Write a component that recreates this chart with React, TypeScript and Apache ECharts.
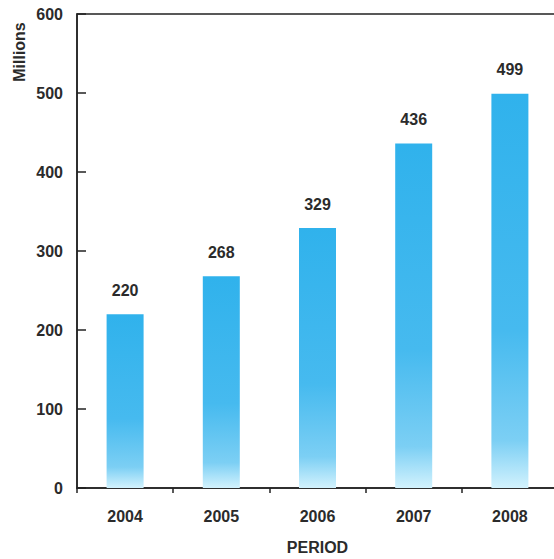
import React, { useEffect, useRef } from "react";
import * as echarts from "echarts";

const categories = ["2004", "2005", "2006", "2007", "2008"];
const values = [220, 268, 329, 436, 499];
const yTicks = { min: 0, max: 600, interval: 100 };
const yAxisTitle = "Millions";
const xAxisTitle = "PERIOD";

const FONT = "'Liberation Sans', Arial, sans-serif";
const TEXT = "#2b2b2b";

export default function App() {
  const ref = useRef<HTMLDivElement>(null);
  useEffect(() => {
    if (!ref.current) return;
    const chart = echarts.init(ref.current, null, { renderer: "svg" });
    chart.setOption({
      animation: false,
      backgroundColor: "#ffffff",
      textStyle: { fontFamily: FONT },
      grid: {
        left: 77,
        top: 14,
        width: 481,
        height: 474,
        containLabel: false,
        outerBoundsMode: "none",
        show: true,
        borderColor: "#222",
        borderWidth: 1.5,
        backgroundColor: "transparent",
      },
      graphic: [
        {
          type: "text",
          x: 19,
          y: 52,
          rotation: Math.PI / 2,
          style: {
            text: yAxisTitle,
            align: "center",
            verticalAlign: "middle",
            fontFamily: FONT,
            fontWeight: "bold",
            fontSize: 16,
            fill: TEXT,
          },
        },
      ],
      xAxis: {
        type: "category",
        data: categories,
        boundaryGap: true,
        name: xAxisTitle,
        nameLocation: "middle",
        nameGap: 51,
        nameTextStyle: { fontFamily: FONT, fontWeight: "bold", fontSize: 16, color: TEXT },
        axisLine: { lineStyle: { color: "#222", width: 1.5 } },
        axisTick: { show: true, inside: false, length: 5, lineStyle: { color: "#222", width: 1.5 } },
        axisLabel: { fontFamily: FONT, fontWeight: "bold", fontSize: 16, color: TEXT, margin: 20 },
        splitLine: { show: false },
      },
      yAxis: {
        type: "value",
        min: yTicks.min,
        max: yTicks.max,
        interval: yTicks.interval,
        axisLine: { show: true, lineStyle: { color: "#222", width: 1.5 } },
        axisTick: { show: true, inside: true, length: 9, lineStyle: { color: "#222", width: 1.5 } },
        axisLabel: { fontFamily: FONT, fontWeight: "bold", fontSize: 16, color: TEXT, margin: 14 },
        splitLine: { show: false },
      },
      series: [
        {
          type: "bar",
          data: values,
          barWidth: 37,
          itemStyle: {
            color: new echarts.graphic.LinearGradient(0, 0, 0, 1, [
              { offset: 0, color: "#30b2ec" },
              { offset: 0.6, color: "#46baef" },
              { offset: 0.88, color: "#7ccff4" },
              { offset: 1, color: "#d2f2fd" },
            ]),
          },
          label: {
            show: true,
            position: "top",
            distance: 16,
            fontFamily: FONT,
            fontWeight: "bold",
            fontSize: 16,
            color: TEXT,
          },
        },
      ],
    });
    return () => chart.dispose();
  }, []);
  return (
    <div
      style={{
        position: "fixed",
        left: 0,
        top: 0,
        width: 554,
        height: 559,
        overflow: "hidden",
        background: "#fff",
      }}
    >
      <div ref={ref} style={{ width: 600, height: 559 }} />
    </div>
  );
}
